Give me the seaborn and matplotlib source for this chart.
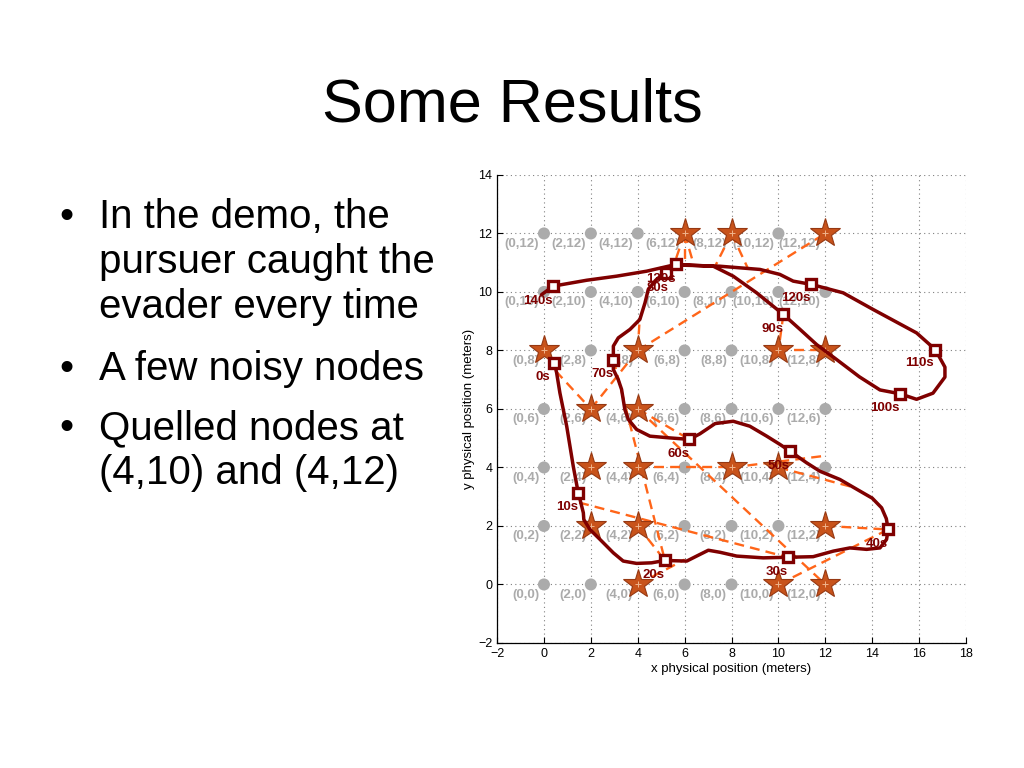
import matplotlib
matplotlib.use("Agg")
import matplotlib.pyplot as plt
import seaborn as sns
import pandas as pd

# ----------------------------------------
# Data
# ----------------------------------------
grid_vals = [0, 2, 4, 6, 8, 10, 12]

# nodes that reported detections (drawn as stars)
star_x = [6, 8, 12, 0, 4, 10, 12, 2, 4, 2, 4, 8, 10, 2, 4, 12, 4, 10, 12]
star_y = [12, 12, 12, 8, 8, 8, 8, 6, 6, 4, 4, 4, 4, 2, 2, 2, 0, 0, 0]

# evader trajectory (meters)
path_x = [0.44, 0.54, 0.68, 0.97, 1.25, 1.46, 1.54, 1.68, 1.70, 1.96, 2.39, 2.96, 3.38, 3.95, 4.59,
          5.16, 6.09, 6.51, 7.01, 7.51, 8.22, 9.35, 10.40, 11.48, 12.34, 13.05, 13.76, 14.33, 14.61,
          14.68, 14.60, 14.40, 14.00, 13.48, 12.62, 11.77, 11.20, 10.49, 10.06, 9.50, 8.78, 8.07,
          7.30, 6.65, 6.20, 5.37, 4.52, 3.95, 3.60, 3.45, 3.31, 3.17, 2.96, 2.96, 2.96, 3.17, 3.67,
          4.09, 4.31, 4.45, 4.80, 5.20, 5.63, 6.65, 7.22, 8.07, 9.07, 10.21, 10.92, 11.63, 12.48,
          13.45, 14.33, 15.18, 15.89, 16.59, 17.10, 17.10, 16.69, 15.89, 14.04, 12.76, 11.39, 10.63,
          10.06, 9.21, 7.50, 6.65, 5.63, 4.38, 3.10, 1.82, 0.40, -0.10]
path_y = [7.58, 7.24, 6.55, 5.41, 4.04, 3.14, 2.90, 2.45, 2.22, 1.88, 1.54, 1.08, 0.80, 0.72, 0.74,
          0.82, 0.80, 0.97, 1.17, 1.10, 0.97, 0.91, 0.93, 0.95, 1.14, 1.25, 1.20, 1.25, 1.54,
          1.88, 2.25, 2.62, 2.95, 3.19, 3.59, 3.87, 4.16, 4.56, 4.79, 5.07, 5.41, 5.58,
          5.50, 5.15, 4.96, 5.01, 5.07, 5.30, 5.64, 5.98, 6.67, 7.00, 7.35, 7.69, 8.15, 8.43, 8.72,
          9.06, 9.63, 10.09, 10.43, 10.66, 10.92, 10.90, 10.88, 10.54, 9.97, 9.23, 8.72, 8.20, 7.69,
          7.10, 6.65, 6.52, 6.33, 6.54, 7.09, 7.43, 8.03, 8.60, 9.40, 9.97, 10.26, 10.37,
          10.60, 10.77, 10.88, 10.90, 10.94, 10.71, 10.54, 10.40, 10.20, 9.91]

# time stamps along the trajectory
mark_t = ["0s", "10s", "20s", "30s", "40s", "50s", "60s", "70s", "80s", "90s",
          "100s", "110s", "120s", "130s", "140s"]
mark_x = [0.44, 1.46, 5.16, 10.40, 14.68, 10.49, 6.20, 2.96, 5.20, 10.21, 15.18, 16.69, 11.39, 5.63, 0.40]
mark_y = [7.58, 3.14, 0.82, 0.93, 1.88, 4.56, 4.96, 7.69, 10.66, 9.23, 6.52, 8.03, 10.26, 10.94, 10.20]

# pursuer links (start x, start y, end x, end y)
link_x0 = [6, 6, 6, 8, 8, 4, 10.21, 10, 0.5, 2, 2.96, 4, 4, 4, 8, 10, 1.5, 4, 4, 10, 12, 4]
link_y0 = [12, 12, 12, 12, 12, 8, 9.23, 8, 7.3, 6, 7.69, 6, 6, 4, 4, 4, 2.8, 2, 0, 0, 2, 8]
link_x1 = [5.55, 6.0, 6.4, 7.3, 8.7, 12, 10, 12, 2, 4, 5.16, 12, 6.2, 8, 12, 13.3, 10.4, 5.16, 6.0, 14.68, 14.68, 4.08]
link_y1 = [10.95, 10.9, 10.9, 10.88, 10.8, 12, 8, 8, 6, 8, 0.82, 0, 4.96, 4, 4.4, 3.3, 0.93, 0.82, 0.85, 1.88, 1.88, 9.05]

bullet_lines = [
    ["In the demo, the", "pursuer caught the", "evader every time"],
    ["A few noisy nodes"],
    ["Quelled nodes at", "(4,10) and (4,12)"],
]

# ----------------------------------------
# Styling
# ----------------------------------------
sns.set_style("ticks")
plt.rcParams["font.family"] = ["Liberation Sans", "DejaVu Sans"]
plt.rcParams["text.color"] = "black"
plt.rcParams["axes.labelcolor"] = "black"
plt.rcParams["xtick.color"] = "black"
plt.rcParams["ytick.color"] = "black"

path_color = "#7F0000"
link_color = "#FF6519"
node_color = "#ABABAB"
star_face = "#C8531B"
star_edge = "#963812"

fig = plt.figure(figsize=(10.24, 7.68), dpi=100)

# slide title and bullet list (baselines in pixels from the top)
fig.text(0.5, 1 - 122 / 768, "Some Results", ha="center", va="baseline", fontsize=44)
baselines = [[228, 273, 318], [380], [439, 484]]
for lines, bases in zip(bullet_lines, baselines):
    fig.text(0.058, 1 - bases[0] / 768, "\u2022", ha="left", va="baseline", fontsize=29)
    for txt, b in zip(lines, bases):
        fig.text(0.097, 1 - b / 768, txt, ha="left", va="baseline", fontsize=29)

ax = fig.add_axes([0.4854, 0.1628, 0.458, 0.6094])

# grid nodes
nodes = pd.DataFrame(
    [(gx, gy) for gy in grid_vals for gx in grid_vals], columns=["x", "y"]
)
sns.scatterplot(data=nodes, x="x", y="y", s=75, color=node_color, edgecolor="none",
                ax=ax, zorder=3)
for gx, gy in zip(nodes["x"], nodes["y"]):
    ax.text(gx - 0.2, gy - 0.36, f"({gx},{gy})", ha="right", va="center",
            fontsize=9.5, fontweight="bold", color=node_color, zorder=4)

# dashed links between detecting nodes and evader estimates
for x0, y0, x1, y1 in zip(link_x0, link_y0, link_x1, link_y1):
    ax.plot([x0, x1], [y0, y1], color=link_color, lw=1.7, linestyle=(0, (4.2, 2.6)),
            zorder=5)

# noisy/detecting nodes
ax.plot(star_x, star_y, linestyle="none", marker="*", markersize=22,
        markerfacecolor=star_face, markeredgecolor=star_edge, markeredgewidth=0.8, zorder=6)
ax.plot(star_x, star_y, linestyle="none", marker="+", markersize=4,
        markeredgecolor="#F0B48C", markeredgewidth=0.7, zorder=6)

# evader path
traj = pd.DataFrame({"x": path_x, "y": path_y})
sns.lineplot(data=traj, x="x", y="y", sort=False, estimator=None, color=path_color,
             lw=2.5, ax=ax, zorder=7)
ax.plot(mark_x, mark_y, linestyle="none", marker="s", markersize=7.5,
        markerfacecolor="white", markeredgecolor=path_color, markeredgewidth=2.4, zorder=8)

label_offset = {"140s": (-0.66, -0.51), "100s": (-0.64, -0.5), "110s": (-0.66, -0.47),
                "120s": (-0.64, -0.45), "130s": (-0.63, -0.51), "80s": (-0.34, -0.54)}
for t, mx, my in zip(mark_t, mark_x, mark_y):
    dx, dy = label_offset.get(t, (-0.47, -0.5))
    ax.text(mx + dx, my + dy, t, ha="center", va="center", fontsize=9.5,
            fontweight="bold", color=path_color, zorder=9)

# axes cosmetics
ax.set_xlim(-2, 18)
ax.set_ylim(-2, 14)
ax.set_xticks(range(-2, 19, 2))
ax.set_yticks(range(-2, 15, 2))
ax.grid(True, linestyle=(0, (1, 3)), color="#808080", linewidth=0.8)
ax.tick_params(direction="in", length=4, labelsize=9, width=0.8)
sns.despine(ax=ax, top=True, right=True)
for side in ("left", "bottom"):
    ax.spines[side].set_linewidth(0.9)
    ax.spines[side].set_color("black")
ax.set_xlabel("x physical position (meters)", fontsize=9.5, labelpad=2)
ax.set_ylabel("y physical position (meters)", fontsize=9.5, labelpad=2)

plt.savefig("out.png", dpi=100)
